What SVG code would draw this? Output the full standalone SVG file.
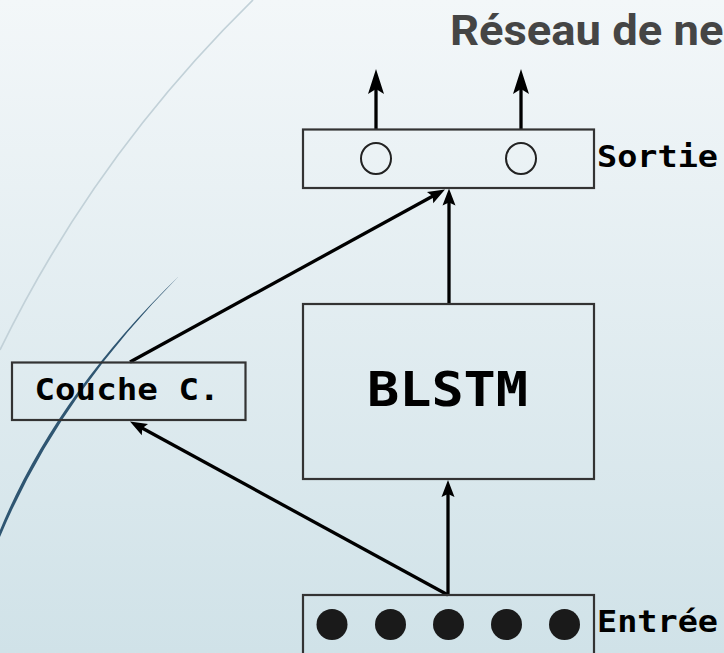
<svg xmlns="http://www.w3.org/2000/svg" width="724" height="653" viewBox="0 0 724 653">
  <defs>
    <linearGradient id="bg" x1="0" y1="0" x2="0" y2="1">
      <stop offset="0" stop-color="#f3f7f9"/>
      <stop offset="1" stop-color="#d0e2e8"/>
    </linearGradient>
    <!-- small arrowhead, tip 8px ahead of the line end -->
    <marker id="head-s" viewBox="-20 -8 30 16" refX="-8" refY="0" markerWidth="30" markerHeight="16" markerUnits="userSpaceOnUse" orient="auto">
      <path d="M0,0 L-17,-6.5 L-14,0 L-17,6.5 Z" fill="#000"/>
    </marker>
    <!-- larger arrowhead for the outputs -->
    <marker id="head-l" viewBox="-28 -10 40 20" refX="-10" refY="0" markerWidth="40" markerHeight="20" markerUnits="userSpaceOnUse" orient="auto">
      <path d="M0,0 L-25,-8 L-20,0 L-25,8 Z" fill="#000"/>
    </marker>
  </defs>
  <style>
    .box { fill: none; stroke: #333; stroke-width: 2.2; }
    .wire { fill: none; stroke: #000; stroke-width: 3.3; }
    .lbl { font-family: "DejaVu Sans Mono", "Liberation Mono", monospace; font-weight: bold; fill: #000; }
    .unit-open { fill: none; stroke: #222; stroke-width: 2; }
    .unit-full { fill: #1a1a1a; }
  </style>

  <rect width="724" height="653" fill="url(#bg)"/>

  <!-- decorative arcs -->
  <g id="decor">
    <path d="M253,0 Q95,155 0,350" fill="none" stroke="#c2d1d8" stroke-width="1.7"/>
    <path d="M178.5,276.5 Q55,396.5 0,530 L0,537 Q58,398.5 178.5,276.5 Z" fill="#2f5672"/>
  </g>

  <!-- heading -->
  <g id="title">
    <text transform="translate(450,45) scale(1.08,1)" font-family="Roboto, 'Noto Sans', sans-serif" font-weight="bold" font-size="42" fill="#454545">Réseau de ne</text>
  </g>

  <!-- connectors -->
  <g id="connectors">
    <line class="wire" x1="376" y1="129" x2="376" y2="79" marker-end="url(#head-l)"/>
    <line class="wire" x1="521" y1="129" x2="521" y2="79" marker-end="url(#head-l)"/>
    <line class="wire" x1="449" y1="304" x2="449" y2="196.5" marker-end="url(#head-s)"/>
    <line class="wire" x1="448" y1="595" x2="448" y2="488" marker-end="url(#head-s)"/>
    <line class="wire" x1="130" y1="362" x2="438" y2="193.3" marker-end="url(#head-s)"/>
    <line class="wire" x1="448" y1="595" x2="137" y2="425.3" marker-end="url(#head-s)"/>
  </g>

  <!-- output layer -->
  <g id="sortie">
    <rect class="box" x="303" y="129.5" width="291" height="58.5"/>
    <ellipse class="unit-open" cx="376" cy="158.5" rx="15" ry="15.5"/>
    <ellipse class="unit-open" cx="521" cy="158.5" rx="15" ry="15.5"/>
    <text class="lbl" x="597" y="166.7" font-size="30" textLength="121" lengthAdjust="spacingAndGlyphs">Sortie</text>
  </g>

  <!-- recurrent block -->
  <g id="blstm">
    <rect class="box" x="303" y="304" width="291" height="175"/>
    <text class="lbl" x="367" y="406" font-size="48" textLength="161" lengthAdjust="spacingAndGlyphs">BLSTM</text>
  </g>

  <!-- side layer -->
  <g id="couche">
    <rect class="box" x="12" y="362.5" width="233.5" height="57.5"/>
    <text class="lbl" x="34.5" y="399.5" font-size="31" textLength="185" lengthAdjust="spacingAndGlyphs">Couche C.</text>
  </g>

  <!-- input layer -->
  <g id="entree">
    <rect class="box" x="303" y="595" width="291" height="70"/>
    <circle class="unit-full" cx="332" cy="624.5" r="15.5"/>
    <circle class="unit-full" cx="390.5" cy="624.5" r="15.5"/>
    <circle class="unit-full" cx="448.5" cy="624.5" r="15.5"/>
    <circle class="unit-full" cx="506.5" cy="624.5" r="15.5"/>
    <circle class="unit-full" cx="564.5" cy="624.5" r="15.5"/>
    <text class="lbl" x="597" y="631.7" font-size="30" textLength="121" lengthAdjust="spacingAndGlyphs">Entrée</text>
  </g>
</svg>
